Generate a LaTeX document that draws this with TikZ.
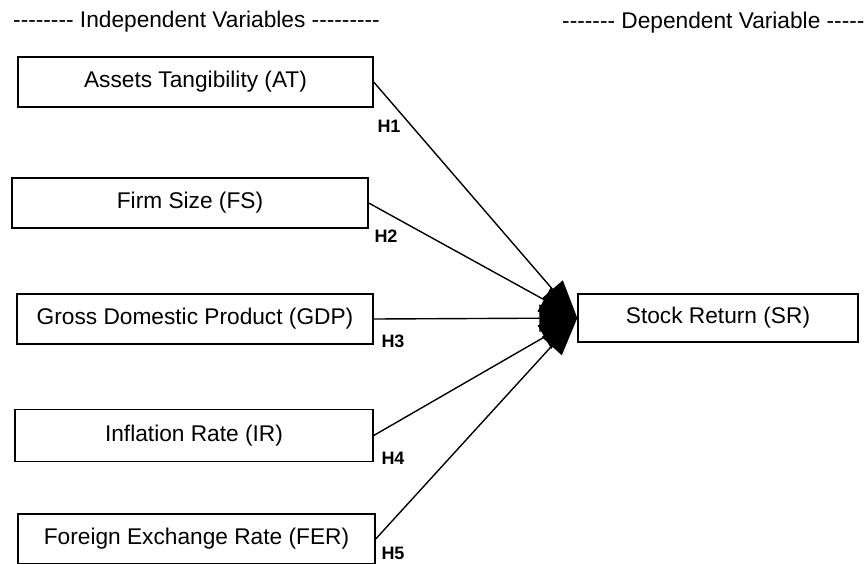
\documentclass[tikz,border=0pt]{standalone}
\usepackage{fontspec}
\newfontfamily\arial{Liberation Sans}
\usetikzlibrary{arrows.meta}

\begin{document}
\begin{tikzpicture}[x=1pt, y=-1pt,
    var/.style={rectangle, draw, line width=1.4pt, minimum height=50pt, inner sep=0pt, font=\arial\fontsize{22.7}{26}\selectfont},
    hyp/.style={inner sep=0pt, font=\arial\fontsize{18}{20}\selectfont\bfseries},
    head/.style={anchor=west, inner sep=0pt, font=\arial\fontsize{22.7}{26}\selectfont}]
      \useasboundingbox (0,0) rectangle (866,563);
      \node[head] (ind) at (13,22) {-------- Independent Variables ---------};
      \node[head] (dep) at (562,23) {------- Dependent Variable -----};
      \node (at) at (195.5,82) [var, minimum width=355pt] {Assets Tangibility (AT)};
      \node (fs) at (190,203) [var, minimum width=356pt] {Firm Size (FS)};
      \node (gdp) at (195,319) [var, minimum width=356pt] {Gross Domestic Product (GDP)};
      \node (ir) at (194,435.5) [var, minimum width=358pt, minimum height=52pt] {Inflation Rate (IR)};
      \node (fer) at (196.5,539) [var, minimum width=357pt] {Foreign Exchange Rate (FER)};
      \node (sr) at (718,318) [var, minimum width=280pt, minimum height=48pt] {Stock Return (SR)};
      \node (h1) at (389,126) [hyp] {H1};
      \node (h2) at (386,236) [hyp] {H2};
      \node (h3) at (393,341) [hyp] {H3};
      \node (h4) at (393,458) [hyp] {H4};
      \node (h5) at (393,553) [hyp] {H5};
      \foreach \source/\dest in {at/sr, fs/sr, gdp/sr, ir/sr, fer/sr}
        \draw[line width=1.4pt, -{Triangle[length=38pt, width=27pt]}] (\source.east) -- (\dest.west);
    \end{tikzpicture}
\end{document}
